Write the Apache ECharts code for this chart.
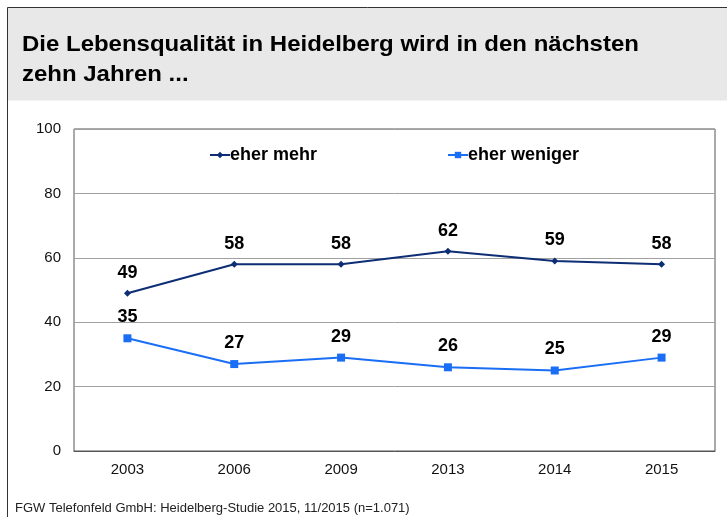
<!DOCTYPE html>
<html>
<head>
<meta charset="utf-8">
<script src="https://cdn.jsdelivr.net/npm/echarts@6/dist/echarts.min.js"></script>
<style>html,body{margin:0;padding:0;background:#fff}#c{width:727px;height:517px}</style>
</head>
<body>
<div id="c"></div>
<script>
const categories = ['2003', '2006', '2009', '2013', '2014', '2015'];
const eherMehr = [49, 58, 58, 62, 59, 58];
const eherWeniger = [35, 27, 29, 26, 25, 29];
const yTicks = [0, 20, 40, 60, 80, 100];
const titleLines = ['Die Lebensqualität in Heidelberg wird in den nächsten', 'zehn Jahren ...'];
const footerText = 'FGW Telefonfeld GmbH: Heidelberg-Studie 2015, 11/2015 (n=1.071)';

const font = 'Liberation Sans, Arial, Helvetica, sans-serif';
const chart = echarts.init(document.getElementById('c'));
const labelStyle = {show: true, position: 'top', distance: 8, fontFamily: font, fontSize: 18, fontWeight: 'bold', color: '#000'};
const legendText = {fontFamily: font, fontSize: 18, fontWeight: 'bold', color: '#000', padding: [0, 0, 0, -5]};
chart.setOption({
  animation: false,
  graphic: [
    {type: 'rect', shape: {x: 7.5, y: 7.5, width: 730, height: 93}, style: {fill: '#e8e8e8', stroke: null}, z: -10},
    {type: 'line', shape: {x1: 7.5, y1: 7.5, x2: 727, y2: 7.5}, style: {stroke: '#333', lineWidth: 1}},
    {type: 'line', shape: {x1: 7.5, y1: 7.5, x2: 7.5, y2: 517}, style: {stroke: '#333', lineWidth: 1}},
    {type: 'text', x: 22, y: 45, scaleX: 1.09, style: {text: titleLines[0], font: 'bold 22px ' + font, fill: '#000', verticalAlign: 'middle'}},
    {type: 'text', x: 22, y: 75, scaleX: 1.09, style: {text: titleLines[1], font: 'bold 22px ' + font, fill: '#000', verticalAlign: 'middle'}},
    {type: 'text', x: 15, y: 502, style: {text: footerText, font: '13px ' + font, fill: '#222'}}
  ],
  legend: [
    {data: ['eher mehr'], left: 204, top: 141, itemWidth: 20, itemHeight: 8, itemGap: 0, textStyle: legendText},
    {data: ['eher weniger'], left: 442, top: 141, itemWidth: 20, itemHeight: 8, itemGap: 0, textStyle: legendText}
  ],
  grid: {left: 74, top: 129, right: 12, bottom: 66, show: true, borderColor: '#555', borderWidth: 1},
  xAxis: {
    type: 'category', data: categories, boundaryGap: true,
    axisLine: {show: true, lineStyle: {color: '#555'}}, axisTick: {show: false},
    axisLabel: {fontFamily: font, fontSize: 15, color: '#111', margin: 11}
  },
  yAxis: {
    type: 'value', min: yTicks[0], max: yTicks[yTicks.length - 1], interval: 20,
    axisLine: {show: false}, axisTick: {show: false},
    axisLabel: {fontFamily: font, fontSize: 15, color: '#111', margin: 13},
    splitLine: {lineStyle: {color: '#a0a0a0', width: 1}}
  },
  series: [
    {name: 'eher mehr', type: 'line', data: eherMehr, symbol: 'diamond', symbolSize: 7,
     lineStyle: {color: '#0d2d75', width: 2}, itemStyle: {color: '#0d2d75'}, label: labelStyle},
    {name: 'eher weniger', type: 'line', data: eherWeniger, symbol: 'rect', symbolSize: 8,
     lineStyle: {color: '#1a6ef5', width: 2}, itemStyle: {color: '#1a6ef5'}, label: labelStyle}
  ]
});
</script>
</body>
</html>
